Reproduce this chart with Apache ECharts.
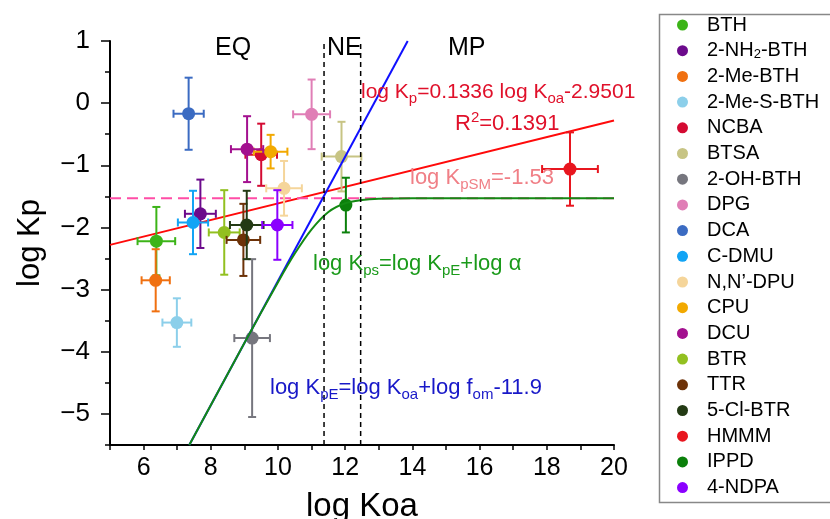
<!DOCTYPE html>
<html>
<head>
<meta charset="utf-8">
<script src="https://cdn.jsdelivr.net/npm/echarts@6/dist/echarts.min.js"></script>
<style>
  html, body { margin: 0; padding: 0; background: #fff; }
  #main { width: 830px; height: 519px; }
</style>
</head>
<body>
<div id="main"></div>
<script>
// compounds
var compounds = ['BTH', '2-NH2-BTH', '2-Me-BTH', '2-Me-S-BTH', 'NCBA', 'BTSA', '2-OH-BTH', 'DPG', 'DCA',
    'C-DMU', 'N,N\u2019-DPU', 'CPU', 'DCU', 'BTR', 'TTR', '5-Cl-BTR', 'HMMM', 'IPPD', '4-NDPA'];
var logKoa    = [6.38, 7.69, 6.36, 6.99, 9.50, 11.89, 9.23, 11.00, 7.34, 7.47, 10.18, 9.78, 9.08, 8.40, 8.97, 9.07, 18.69, 12.02, 9.98];
var logKp     = [-2.22, -1.78, -2.85, -3.53, -0.83, -0.86, -3.78, -0.18, -0.17, -1.92, -1.37, -0.78, -0.74, -2.08, -2.20, -1.96, -1.06, -1.64, -1.96];
var koaErr    = [0.56, 0.46, 0.42, 0.43, 0.47, 0.59, 0.53, 0.55, 0.45, 0.45, 0.53, 0.50, 0.48, 0.46, 0.50, 0.50, 0.83, 0, 0.45];
var kpErr     = [0.55, 0.55, 0.50, 0.39, 0.50, 0.56, 1.27, 0.56, 0.58, 0.51, 0.44, 0.27, 0.53, 0.68, 0.58, 0.55, 0.59, 0.44, 0.56];

// colours of the compounds (style only)
var colors = ['#3cb418', '#6c0a8c', '#f07010', '#8ccfea', '#d40a32', '#c7c484', '#76767e', '#e07eb6', '#3b6bc2',
    '#12a4f5', '#f5d59a', '#f2a900', '#a3108f', '#92c020', '#6d3208', '#233a14', '#e8161f', '#0b800b', '#8b00ff'];

// model lines
var regLineX = [5, 20],      regLineY = [-2.28, -0.28];   // log Kp = 0.1336 log Koa - 2.9501
var smLineX = [5, 20],       smLineY = [-1.53, -1.53];    // log KpSM
var peLineX = [7.36, 13.86], peLineY = [-5.5, 1];          // log KpE
var psLineX = [7.36, 9, 10, 10.5, 11, 11.5, 12, 12.5, 13, 14, 20];
var psLineY = [-5.5, -3.86, -2.88, -2.42, -2.03, -1.75, -1.61, -1.56, -1.54, -1.53, -1.53];
var zoneBounds = [11.37, 12.46];

var xTicks = [6, 8, 10, 12, 14, 16, 18, 20];
var yTicks = [-5, -4, -3, -2, -1, 0, 1];

function pairs(xs, ys) {
    return xs.map(function (x, i) { return [x, ys[i]]; });
}

var chart = echarts.init(document.getElementById('main'));

var series = [];

// regression line under the points
series.push({
    type: 'line', name: 'reg', data: pairs(regLineX, regLineY), symbol: 'none', z: 2,
    lineStyle: {color: '#ff0a0a', width: 2}, silent: true
});
series.push({
    type: 'line', name: 'sm', data: pairs(smLineX, smLineY), symbol: 'none', z: 2,
    lineStyle: {color: '#ff4da6', width: 2, type: [11, 6]}, silent: true
});

// one custom series per compound: error bars + dot
compounds.forEach(function (name, i) {
    series.push({
        type: 'custom',
        name: name,
        z: 3,
        itemStyle: {color: colors[i]},
        encode: {x: 0, y: 1},
        data: [[logKoa[i], logKp[i], koaErr[i], kpErr[i]]],
        renderItem: function (params, api) {
            var x = api.value(0), y = api.value(1), ex = api.value(2), ey = api.value(3);
            var c = api.coord([x, y]);
            var top = api.coord([x, y + ey]), bot = api.coord([x, y - ey]);
            var lft = api.coord([x - ex, y]), rgt = api.coord([x + ex, y]);
            var cap = 4;
            var st = {stroke: colors[i], lineWidth: 2};
            var kids = [
                {type: 'line', shape: {x1: c[0], y1: top[1], x2: c[0], y2: bot[1]}, style: st},
                {type: 'line', shape: {x1: c[0] - cap, y1: top[1], x2: c[0] + cap, y2: top[1]}, style: st},
                {type: 'line', shape: {x1: c[0] - cap, y1: bot[1], x2: c[0] + cap, y2: bot[1]}, style: st}
            ];
            if (ex > 0) {
                kids.push({type: 'line', shape: {x1: lft[0], y1: c[1], x2: rgt[0], y2: c[1]}, style: st});
                kids.push({type: 'line', shape: {x1: lft[0], y1: c[1] - cap, x2: lft[0], y2: c[1] + cap}, style: st});
                kids.push({type: 'line', shape: {x1: rgt[0], y1: c[1] - cap, x2: rgt[0], y2: c[1] + cap}, style: st});
            }
            kids.push({type: 'circle', shape: {cx: c[0], cy: c[1], r: 6.5}, style: {fill: colors[i]}});
            return {type: 'group', children: kids};
        }
    });
});

series.push({
    type: 'line', name: 'pe', data: pairs(peLineX, peLineY), symbol: 'none', z: 4,
    lineStyle: {color: '#1010ff', width: 2}, silent: true
});
series.push({
    type: 'line', name: 'ps', data: pairs(psLineX, psLineY), symbol: 'none', z: 4, smooth: 0.3,
    lineStyle: {color: '#138a13', width: 2}, silent: true
});
zoneBounds.forEach(function (b, k) {
    series.push({
        type: 'line', name: 'zone' + k, data: [[b, -5.5], [b, 1]], symbol: 'none', z: 4,
        lineStyle: {color: '#000', width: 1.5, type: [5, 4]}, silent: true
    });
});

var minus = function (v) { return String(v).replace('-', '\u2212'); };

// annotation text helper (subscripts / superscript via rich text)
function note(left, top, text, color, size) {
    return {
        type: 'text', left: left, top: top, z: 10,
        style: {
            text: text, fontSize: size, fill: color, lineHeight: 28,
            rich: {
                s: {fontSize: 15, verticalAlign: 'bottom', lineHeight: 28, fill: color},
                p: {fontSize: 15, verticalAlign: 'top', lineHeight: 24, fill: color}
            }
        }
    };
}

var option = {
    animation: false,
    backgroundColor: '#fff',
    textStyle: {fontFamily: 'Liberation Sans, Arial, sans-serif'},
    grid: {left: 110, right: 216, top: 41, bottom: 74, containLabel: false, outerBoundsMode: 'none'},
    xAxis: {
        type: 'value', min: 5, max: 20, interval: 1,
        axisLine: {onZero: false, lineStyle: {color: '#000', width: 2}},
        axisTick: {length: 5, lineStyle: {color: '#000', width: 1.5}},
        axisLabel: {customValues: xTicks, color: '#000', fontSize: 25, margin: 11},
        splitLine: {show: false},
        name: 'log Koa', nameLocation: 'middle', nameGap: 45,
        nameTextStyle: {color: '#000', fontSize: 33}
    },
    yAxis: [{
        type: 'value', min: -5.5, max: 1, interval: 0.5,
        axisLine: {show: true, onZero: false, lineStyle: {color: '#000', width: 2}},
        axisTick: {length: 5, lineStyle: {color: '#000', width: 1.5}},
        axisLabel: {customValues: yTicks, color: '#000', fontSize: 26, margin: 20, formatter: minus},
        splitLine: {show: false},
        name: 'log Kp', nameLocation: 'middle', nameGap: 64,
        nameTextStyle: {color: '#000', fontSize: 31}
    }, {
        type: 'value', min: -5.5, max: 1, position: 'left',
        axisLine: {show: false, onZero: false},
        axisTick: {show: true, customValues: yTicks, length: 9, lineStyle: {color: '#000', width: 1.5}},
        axisLabel: {show: false},
        splitLine: {show: false}
    }],
    legend: {
        orient: 'vertical', left: 677, top: 15, padding: 0,
        itemWidth: 39, itemHeight: 11, itemGap: 5.7, icon: 'circle',
        data: compounds,
        textStyle: {
            fontSize: 20, lineHeight: 20, color: '#000',
            rich: {sub: {fontSize: 13, verticalAlign: 'bottom', lineHeight: 20}}
        },
        formatter: function (n) { return n === '2-NH2-BTH' ? '2-NH{sub|2}-BTH' : n; }
    },
    graphic: [
        {type: 'rect', left: 657, top: 12, shape: {width: 200, height: 488}, style: {fill: 'none', stroke: '#888', lineWidth: 1.5}},
        {type: 'text', left: 215, top: 36, style: {text: 'EQ', fontSize: 25, fill: '#000'}},
        {type: 'text', left: 327, top: 36, style: {text: 'NE', fontSize: 25, fill: '#000'}},
        {type: 'text', left: 448, top: 36, style: {text: 'MP', fontSize: 25, fill: '#000'}},
        note(361, 78, 'log K{s|p}=0.1336 log K{s|oa}-2.9501', '#e0102a', 21),
        note(455, 110, 'R{p|2}=0.1391', '#e0102a', 22),
        note(410, 164, 'log K{s|pSM}=-1.53', '#f07f86', 22),
        note(313, 250, 'log K{s|ps}=log K{s|pE}+log \u03b1', '#1a9a1a', 22),
        note(270, 374, 'log K{s|pE}=log K{s|oa}+log f{s|om}-11.9', '#1818c8', 22)
    ],
    series: series
};

chart.setOption(option);
</script>
</body>
</html>
